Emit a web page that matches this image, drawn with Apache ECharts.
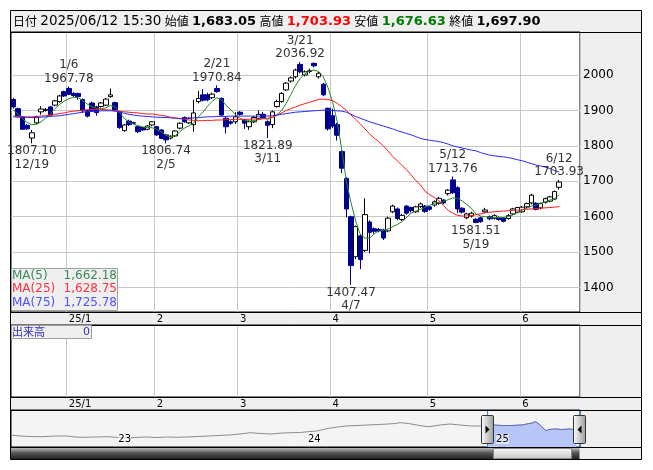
<!DOCTYPE html>
<html><head><meta charset="utf-8">
<script src="https://cdn.jsdelivr.net/npm/echarts@6/dist/echarts.min.js"></script>
<style>html,body{margin:0;padding:0;background:#fff}#c{width:653px;height:470px}</style>
</head><body><div id="c"></div>
<script>
// ---------- data ----------
const dates = ['2024/12/13','2024/12/16','2024/12/17','2024/12/18','2024/12/19','2024/12/20','2024/12/23','2024/12/24','2024/12/25','2024/12/26','2024/12/27','2024/12/30',
'2025/01/06','2025/01/07','2025/01/08','2025/01/09','2025/01/10','2025/01/14','2025/01/15','2025/01/16','2025/01/17','2025/01/20','2025/01/21','2025/01/22','2025/01/23','2025/01/24','2025/01/27','2025/01/28','2025/01/29','2025/01/30','2025/01/31',
'2025/02/03','2025/02/04','2025/02/05','2025/02/06','2025/02/07','2025/02/10','2025/02/12','2025/02/13','2025/02/14','2025/02/17','2025/02/18','2025/02/19','2025/02/20','2025/02/21','2025/02/25','2025/02/26','2025/02/27','2025/02/28',
'2025/03/03','2025/03/04','2025/03/05','2025/03/06','2025/03/07','2025/03/10','2025/03/11','2025/03/12','2025/03/13','2025/03/14','2025/03/17','2025/03/18','2025/03/19','2025/03/21','2025/03/24','2025/03/25','2025/03/26','2025/03/27','2025/03/28','2025/03/31',
'2025/04/01','2025/04/02','2025/04/03','2025/04/04','2025/04/07','2025/04/08','2025/04/09','2025/04/10','2025/04/11','2025/04/14','2025/04/15','2025/04/16','2025/04/17','2025/04/18','2025/04/21','2025/04/22','2025/04/23','2025/04/24','2025/04/25','2025/04/28','2025/04/30',
'2025/05/01','2025/05/02','2025/05/07','2025/05/08','2025/05/09','2025/05/12','2025/05/13','2025/05/14','2025/05/15','2025/05/16','2025/05/19','2025/05/20','2025/05/21','2025/05/22','2025/05/23','2025/05/26','2025/05/27','2025/05/28','2025/05/29','2025/05/30',
'2025/06/02','2025/06/03','2025/06/04','2025/06/05','2025/06/06','2025/06/09','2025/06/10','2025/06/11','2025/06/12'];
const padDates = ['2025/06/13','2025/06/16','2025/06/17','2025/06/18'];

const opens = [1931,1905,1882,1858,1822,1865,1896,1900,1910,1915,1925,1953,
1962,1948,1948,1931,1899,1921,1910,1911,1915,1939,1922,1896,1843,1870,1865,1854,1852,1847,1859,
1854,1845,1831,1822,1828,1850,1880,1865,1860,1925,1944,1944,1936,1962,1934,1878,1868,1868,
1895,1873,1854,1868,1878,1889,1868,1860,1911,1925,1958,1983,1995,2030,2000,2010,2033,1995,1974,1906,
1885,1860,1784,1708,1600,1487,1546,1505,1585,1566,1564,1562,1560,1614,1622,1592,1630,1626,1614,1629,1630,
1628,1633,1638,1647,1665,1704,1682,1624,1597,1602,1593,1597,1614,1600,1596,1598,1596,1595,1608,1613,
1614,1628,1639,1638,1625,1641,1644,1650,1683.05];
const highs = [1935,1908,1884,1862,1845,1885,1912,1907,1913,1930,1944,1956,
1967.78,1952,1950,1934,1902,1925,1913,1924,1935,1962,1925,1898,1862,1874,1868,1857,1854,1858,1870,
1856,1847,1834,1830,1844,1866,1883,1880,1930,1955,1960,1950,1950,1970.84,1937,1882,1872,1895,
1898,1876,1872,1884,1900,1896,1872,1900,1930,1952,1980,1996,2018,2036.92,2013,2018,2035,2008,1978,1908,
1905,1865,1788,1712,1603,1575,1550,1652,1590,1570,1568,1566,1600,1634,1626,1608,1633,1629,1631,1640,1633,
1631,1646,1656,1650,1678,1713.76,1686,1627,1611,1614,1596,1600,1625,1603,1607,1601,1599,1608,1625,1628,
1630,1640,1664,1641,1640,1654,1659,1674,1703.93];
const lows = [1905,1882,1845,1845,1807.10,1862,1888,1897,1884,1912,1922,1938,
1943,1938,1930,1893,1880,1896,1885,1908,1912,1936,1898,1848,1840,1856,1862,1836,1842,1844,1855,
1828,1819,1806.74,1818,1825,1847,1865,1862,1840,1920,1925,1926,1932,1950,1885,1835,1860,1862,
1885,1848,1845,1864,1874,1876,1821.89,1850,1908,1922,1955,1978,1990,2005,1996,2005,2022,1990,1940,1843,
1850,1815,1723,1598,1407.47,1480,1452,1500,1497,1552,1556,1534,1556,1610,1590,1588,1606,1612,1610,1625,1611,
1617,1629,1634,1635,1660,1664,1610,1609,1593,1598,1581.51,1583,1611,1590,1592,1588,1584,1592,1605,1610,
1611,1624,1635,1618,1621,1637,1641,1647,1676.63];
const closes = [1910,1885,1847,1848,1837,1881,1904,1903,1887,1927,1941,1941,
1946,1942,1939,1899,1884,1899,1894,1921,1932,1944,1901,1852,1859,1860,1864,1840,1845,1856,1868,
1831,1821,1817,1827,1842,1864,1868,1878,1893,1934,1929,1930,1946,1953,1887,1854,1864,1882,
1889,1864,1868,1880,1889,1880,1858,1896,1925,1948,1977,1992,2014,2009,2009,2012,2026,2005,1944,1848,
1856,1830,1737,1622,1462,1572,1479,1606,1556,1559,1560,1540,1596,1630,1595,1604,1610,1617,1628,1636,1615,
1621,1642,1652,1639,1675,1668,1622,1613,1608,1610,1584,1586,1619,1594,1603,1592,1587,1603,1622,1626,
1627,1637,1661,1621,1637,1651,1656,1671,1697.90];

const ma5 = [1901,1890,1876,1866,1860,1860,1868,1878,1890,1905,1917,1926,
1933,1937,1936,1928,1918,1911,1906,1905,1907,1914,1910,1893,1878,1867,1861,1857,1853,1852,1851,
1847,1839,1830,1825,1829,1840,1850,1857,1865,1882,1895,1912,1926,1936,1930,1914,1902,1888,
1878,1872,1870,1871,1874,1877,1875,1880,1888,1900,1920,1945,1970,1990,2003,2011,2014,2010,1995,1965,
1925,1870,1790,1700,1640,1588,1550,1540,1539,1552,1560,1562,1565,1572,1578,1586,1598,1610,1616,1621,1626,
1632,1638,1641,1643,1648,1653,1652,1645,1635,1624,1608,1602,1600,1599,1598,1598,1598,1601,1605,1612,
1619,1624,1630,1633,1638,1642,1647,1650,1662.18];
const ma25 = [1884,1883,1882,1882,1882,1883,1884,1885,1887,1889,1891,1893,
1896,1898,1899,1901,1902,1902,1903,1903,1902,1901,1899,1898,1896,1895,1894,1893,1891,1890,1890,
1888,1886,1884,1881,1879,1877,1875,1873,1872,1871,1871,1872,1872,1873,1873,1874,1874,1875,
1875,1875,1875,1876,1876,1877,1878,1881,1886,1893,1900,1905,1910,1915,1919,1923,1927,1931,1932,1931,
1928,1920,1911,1900,1887,1875,1862,1848,1834,1822,1812,1800,1786,1770,1758,1745,1733,1718,1702,1690,1672,
1662,1655,1645,1632,1618,1610,1604,1602,1602,1603,1606,1608,1611,1613,1614,1615,1616,1617,1618,1619,
1620,1621,1622,1623,1624,1625,1626,1627,1628.75];
const ma75 = [1882,1881,1881,1880,1880,1880,1881,1882,1883,1884,1885,1887,
1889,1891,1893,1895,1896,1897,1898,1899,1899,1899,1898,1895,1892,1889,1887,1885,1884,1883,1882,
1881,1880,1880,1879,1878,1877,1877,1878,1879,1880,1881,1882,1882,1883,1883,1883,1884,1884,
1884,1884,1884,1884,1884,1884,1884,1885,1887,1889,1891,1893,1895,1896,1897,1898,1899,1900,1901,1901,
1900,1899,1898,1895,1889,1883,1878,1873,1868,1864,1860,1856,1852,1848,1843,1839,1835,1831,1826,1821,1818,
1816,1814,1812,1809,1805,1800,1797,1794,1791,1788,1786,1781,1777,1774,1772,1770,1769,1767,1764,1761,
1758,1754,1750,1746,1743,1740,1736,1730,1725.78];

const monthTickDates = ['2025/01/06','2025/02/03','2025/03/03','2025/04/01','2025/05/01','2025/06/02'];
const monthTickLabels = ['25/1','2','3','4','5','6'];
const priceTicks = [1400,1500,1600,1700,1800,1900,2000];

const markDates = ['2024/12/19','2025/01/06','2025/02/05','2025/02/21','2025/03/11','2025/03/21','2025/04/07','2025/05/12','2025/05/19','2025/06/12'];
const markKinds = ['low','high','low','high','low','high','low','high','low','high'];

const headerDate = '2025/06/12 15:30';
const headerOpen = '1,683.05', headerHigh = '1,703.93', headerLow = '1,676.63', headerClose = '1,697.90';
const maNames = ['MA(5)','MA(25)','MA(75)'];
const maLastText = ['1,662.18','1,628.75','1,725.78'];
const volumeName = '出来高', volumeLast = '0';

// overview (slider) history: trading-day offset from 2024/12/13, and level
const histDays = [-630,-618,-604,-589,-571,-556,-545,-534,-519,-501,-488,-479,-466,-451,-437,-423,-410,-397,-382,-369,-356,-341,-327,-313,-300,-286,-271,-258,-247,-237,-225,-217,-209,-198,-187,-172,-159,-144,-131,-122,-115,-104,-93,-85,-77,-62,-49,-36,-21,-9,
0,7,20,33,46,53,60,63,67,71,74,78,82,90,99,110,114,118];
const histValues = [1400,1350,1325,1315,1350,1350,1300,1285,1300,1315,1275,1250,1275,1300,1275,1300,1285,1300,1325,1350,1375,1400,1450,1515,1475,1450,1500,1515,1525,1565,1600,1675,1735,1800,1850,1875,1900,1925,1950,1975,2015,1975,1900,1850,1815,1900,1950,1900,1850,1850,
1850,1900,1875,1875,1900,1950,2000,2065,2000,1875,1750,1615,1675,1700,1675,1700,1675,1650];
const yearTickDays = [-488,-237,12];
const yearTickLabels = ['23','24','25'];
const selStartDay = 0, selEndDay = 123;

// ---------- chart ----------
const FONT = 'DejaVu Sans';
const CJK = 'Noto Sans CJK JP';
const cats = dates.concat(padDates);
const UP_FILL = '#ffffff', DOWN = '#000090';
const MA_COLORS = ['#228b22','#ff1a1a','#2a2aff'];
const MA_TEXT = ['#3a8a5a','#ff3040','#5050ff'];

const monthIdx = v => monthTickDates.indexOf(v);
const tickFn = (i, v) => monthIdx(cats[i]) >= 0;

const candleData = dates.map((d, i) => [opens[i], closes[i], lows[i], highs[i]]);
const markData = markDates.map((d, k) => {
  const i = dates.indexOf(d);
  const val = markKinds[k] === 'high' ? highs[i] : lows[i];
  const md = (+d.slice(5, 7)) + '/' + (+d.slice(8, 10));
  const vs = val.toFixed(2);
  return {
    coord: [d, val],
    label: {
      position: markKinds[k] === 'high' ? 'top' : 'bottom',
      formatter: markKinds[k] === 'high' ? md + '\n' + vs : vs + '\n' + md
    }
  };
});

const G0 = {left: 11, top: 32, width: 569, height: 280};
const G1 = {left: 11, top: 325, width: 569, height: 72};
const G2 = {left: 11, top: 410, width: 569, height: 37};

function baseGraphic() {
  const g = [];
  g.push({type: 'rect', z: -100, shape: {x: 10.5, y: 10.5, width: 631, height: 449}, style: {fill: '#efefef', stroke: '#000', lineWidth: 1}});
  [32, 312, 325, 397, 410, 447].forEach(y => g.push({type: 'line', z: 50, shape: {x1: 10, y1: y + 0.5, x2: 641, y2: y + 0.5}, style: {stroke: '#000', lineWidth: 1}}));
  g.push({type: 'text', z: 60, x: 13, y: 21.5, style: {
    text: '{l|日付} {d|' + headerDate + '} {l|始値} {b|' + headerOpen + '} {l|高値} {r|' + headerHigh + '} {l|安値} {g|' + headerLow + '} {l|終値} {b|' + headerClose + '}',
    verticalAlign: 'middle', fill: '#000',
    rich: {
      l: {fontFamily: CJK, fontSize: 12, fill: '#000'},
      d: {fontFamily: FONT, fontSize: 13.5, fill: '#000'},
      b: {fontFamily: FONT, fontSize: 13, fontWeight: 'bold', fill: '#000'},
      r: {fontFamily: FONT, fontSize: 13, fontWeight: 'bold', fill: '#ff0000'},
      g: {fontFamily: FONT, fontSize: 13, fontWeight: 'bold', fill: '#007a00'}
    }
  }});
  // MA legend box
  g.push({type: 'rect', z: 70, shape: {x: 11.5, y: 268.5, width: 106, height: 42}, style: {fill: '#efefef', stroke: '#a0a0a0', lineWidth: 1}});
  maNames.forEach((n, k) => {
    const y = 275.5 + k * 13.5;
    g.push({type: 'text', z: 71, x: 12, y: y, style: {text: n, fontFamily: FONT, fontSize: 12, fill: MA_TEXT[k], verticalAlign: 'middle'}});
    g.push({type: 'text', z: 71, x: 117, y: y, style: {text: maLastText[k], fontFamily: FONT, fontSize: 12, fill: MA_TEXT[k], align: 'right', verticalAlign: 'middle'}});
  });
  // volume legend box
  g.push({type: 'rect', z: 70, shape: {x: 11.5, y: 325.5, width: 80, height: 13}, style: {fill: '#efefef', stroke: '#a0a0a0', lineWidth: 1}});
  g.push({type: 'text', z: 71, x: 12, y: 332, style: {text: volumeName, fontFamily: CJK, fontSize: 11, fill: '#3030c0', verticalAlign: 'middle'}});
  g.push({type: 'text', z: 71, x: 90, y: 332, style: {text: volumeLast, fontFamily: FONT, fontSize: 11, fill: '#3030c0', align: 'right', verticalAlign: 'middle'}});
  return g;
}

const option = {
  animation: false,
  backgroundColor: '#ffffff',
  grid: [
    Object.assign({show: true, backgroundColor: '#fff', borderColor: '#000', borderWidth: 1}, G0),
    Object.assign({show: true, backgroundColor: '#fff', borderColor: '#000', borderWidth: 1}, G1),
    Object.assign({show: true, backgroundColor: '#f4f4f4', borderColor: '#000', borderWidth: 1}, G2)
  ],
  xAxis: [
    {type: 'category', gridIndex: 0, data: cats, boundaryGap: true,
     axisLine: {show: false}, axisTick: {show: false},
     axisLabel: {interval: tickFn, formatter: v => monthIdx(v) >= 0 ? monthTickLabels[monthIdx(v)] : '', align: 'left', margin: 2, fontSize: 10, fontFamily: FONT, color: '#000'},
     splitLine: {show: true, interval: tickFn, lineStyle: {color: '#c8c8c8', width: 1}}},
    {type: 'category', gridIndex: 1, data: cats, boundaryGap: true,
     axisLine: {show: false}, axisTick: {show: false},
     axisLabel: {interval: tickFn, formatter: v => monthIdx(v) >= 0 ? monthTickLabels[monthIdx(v)] : '', align: 'left', margin: 2, fontSize: 10, fontFamily: FONT, color: '#000'},
     splitLine: {show: true, interval: tickFn, lineStyle: {color: '#c8c8c8', width: 1}}},
    {type: 'value', gridIndex: 2, min: -630, max: 123, z: 10,
     axisLine: {show: false}, axisTick: {show: false, customValues: yearTickDays}, splitLine: {show: false},
     axisLabel: {show: true, inside: true, customValues: yearTickDays, formatter: v => yearTickLabels[yearTickDays.indexOf(v)] || '', align: 'left', margin: 3, fontSize: 10, fontFamily: FONT, color: '#000', backgroundColor: 'rgba(255,255,255,0.6)'}}
  ],
  yAxis: [
    {type: 'value', gridIndex: 0, position: 'right', min: 1331.1, max: 2121.4,
     axisLine: {show: false}, axisTick: {show: false, customValues: priceTicks},
     axisLabel: {customValues: priceTicks, formatter: v => String(v), margin: 3, fontSize: 12, fontFamily: FONT, color: '#000'},
     splitLine: {show: true, lineStyle: {color: '#c8c8c8', width: 1}}},
    {type: 'value', gridIndex: 1, position: 'right', show: false, min: 0, max: 1},
    {type: 'value', gridIndex: 2, show: false, min: 800, max: 2650}
  ],
  series: [
    {type: 'candlestick', name: 'price', xAxisIndex: 0, yAxisIndex: 0, data: candleData, barWidth: 5, z: 2,
     itemStyle: {color: UP_FILL, color0: DOWN, borderColor: '#000', borderColor0: DOWN, borderWidth: 1},
     markPoint: {symbol: 'circle', symbolSize: 0, data: markData, z: 10,
       label: {show: true, distance: 1, fontFamily: FONT, fontSize: 12, lineHeight: 13.5, color: '#333', align: 'center'}}},
    {type: 'line', name: 'MA5', xAxisIndex: 0, yAxisIndex: 0, data: ma5, showSymbol: false, z: 3, lineStyle: {color: MA_COLORS[0], width: 1}},
    {type: 'line', name: 'MA25', xAxisIndex: 0, yAxisIndex: 0, data: ma25, showSymbol: false, z: 3, lineStyle: {color: MA_COLORS[1], width: 1}},
    {type: 'line', name: 'MA75', xAxisIndex: 0, yAxisIndex: 0, data: ma75, showSymbol: false, z: 3, lineStyle: {color: MA_COLORS[2], width: 1}},
    {type: 'line', name: 'overview', xAxisIndex: 2, yAxisIndex: 2, data: histDays.map((d, i) => [d, histValues[i]]), showSymbol: false, z: 3,
     lineStyle: {color: '#8c8c8c', width: 1}},
    {type: 'line', name: 'overviewSel', xAxisIndex: 2, yAxisIndex: 2,
     data: histDays.map((d, i) => [d, histValues[i]]).filter(p => p[0] >= selStartDay), showSymbol: false, z: 4,
     lineStyle: {color: '#6b6bb8', width: 1}, areaStyle: {color: '#b6c6f6', opacity: 1, origin: 'start'}}
  ],
  graphic: baseGraphic()
};

const chart = echarts.init(document.getElementById('c'));
chart.setOption(option);

// slider decorations placed through the overview axis
const pS = chart.convertToPixel({gridIndex: 2}, [selStartDay, 800]);
const pE = chart.convertToPixel({gridIndex: 2}, [selEndDay, 800]);
const xs = Math.round(pS[0]) + 0.5, xe = Math.round(pE[0]) - 0.5;
const g = baseGraphic();
const grad = (c) => new echarts.graphic.LinearGradient(0, 0, 0, 1, c);
g.push({type: 'rect', z: 40, shape: {x: 11, y: 448, width: xe - 11, height: 11}, style: {fill: grad([{offset: 0, color: '#b8b8b8'}, {offset: 0.45, color: '#555'}, {offset: 1, color: '#222'}])}});
g.push({type: 'rect', z: 41, shape: {x: xs + 6, y: 448.5, width: xe - xs - 14, height: 10}, style: {fill: grad([{offset: 0, color: '#f8f8f8'}, {offset: 1, color: '#c4c4c4'}]), stroke: '#888', lineWidth: 1}});
[xs, xe].forEach(x => g.push({type: 'line', z: 45, shape: {x1: x, y1: 410, x2: x, y2: 447}, style: {stroke: '#1e9bd7', lineWidth: 1}}));
[[xs, -1], [xe, 1]].forEach(([x, dir]) => {
  g.push({type: 'rect', z: 46, shape: {x: x - 6, y: 415.5, width: 12, height: 28, r: 1}, style: {fill: new echarts.graphic.LinearGradient(0, 0, 1, 0, [{offset: 0, color: '#ffffff'}, {offset: 1, color: '#9a9a9a'}]), stroke: '#333', lineWidth: 1}});
  g.push({type: 'polygon', z: 47, shape: {points: [[x - 2 * dir, 429.5], [x + 2 * dir, 425.5], [x + 2 * dir, 433.5]]}, style: {fill: '#000'}});
});
chart.setOption({graphic: g}, {replaceMerge: ['graphic']});
</script></body></html>
